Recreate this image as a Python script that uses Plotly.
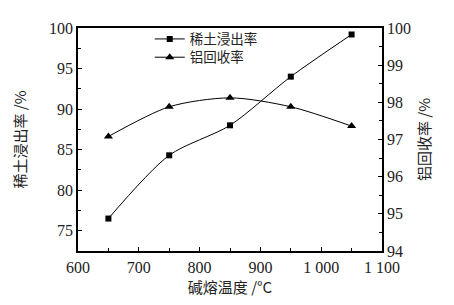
import plotly.graph_objects as go

temps = [650, 750, 850, 950, 1050]
re_leach = [76.5, 84.3, 88.0, 94.0, 99.2]
al_recov = [97.08, 97.88, 98.12, 97.88, 97.36]
x_tickvals = [600, 700, 800, 900, 1000, 1100]
x_ticktext = ["600", "700", "800", "900", "1 000", "1 100"]

serif = "Liberation Serif, Times New Roman, serif"
cjk = "Noto Sans CJK SC"

fig = go.Figure()
fig.add_trace(go.Scatter(x=temps, y=re_leach, name="稀土浸出率", mode="lines+markers", legend="legend",
                         line=dict(color="black", width=1, shape="spline", smoothing=0.8),
                         marker=dict(symbol="square", size=6, color="black")))
fig.add_trace(go.Scatter(x=temps, y=al_recov, name="铝回收率", mode="lines+markers", yaxis="y2",
                         legend="legend2",
                         line=dict(color="black", width=1, shape="spline", smoothing=0.8),
                         marker=dict(symbol="triangle-up", size=8, color="black")))

axis_common = dict(showline=True, linecolor="black", linewidth=1.5, ticks="inside",
                   ticklen=4, tickwidth=1, tickcolor="black", showgrid=False, zeroline=False,
                   tickfont=dict(family=serif, size=16, color="#222"))

leg_common = dict(xanchor="left", yanchor="middle", bgcolor="rgba(0,0,0,0)",
                  font=dict(family=cjk, size=13.5, color="#222"), itemwidth=30)

title_font = dict(family=cjk, size=15, color="#222")

fig.update_layout(
    width=446, height=297,
    margin=dict(l=61, r=72, t=16, b=50),
    paper_bgcolor="white", plot_bgcolor="white",
    showlegend=True,
    legend=dict(x=0.236, y=0.950, **leg_common),
    legend2=dict(x=0.236, y=0.868, **leg_common),
    xaxis=dict(range=[600, 1100], tickvals=x_tickvals, ticktext=x_ticktext, mirror=True,
               ticklabelstandoff=1,
               title=dict(text="碱熔温度 /°C", font=title_font, standoff=7),
               minor=dict(ticks="inside", ticklen=3, dtick=50, tickcolor="black"),
               **axis_common),
    yaxis=dict(range=[72.5, 100], tickvals=[75, 80, 85, 90, 95, 100],
               title=dict(text="稀土浸出率 /%", font=title_font, standoff=19),
               minor=dict(ticks="inside", ticklen=3, dtick=2.5, tick0=72.5, tickcolor="black"),
               **axis_common),
    yaxis2=dict(range=[94, 100], overlaying="y", side="right", tickvals=[94, 95, 96, 97, 98, 99, 100],
                title=dict(text="铝回收率 /%", font=title_font, standoff=10),
                minor=dict(ticks="inside", ticklen=3, dtick=0.5, tickcolor="black"),
                **axis_common),
)

fig.write_html("out.html")
